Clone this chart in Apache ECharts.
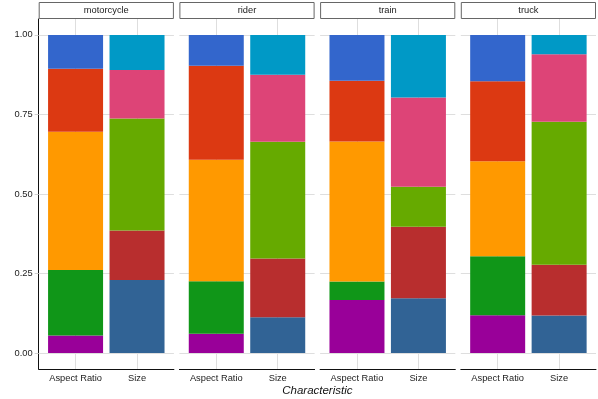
<!DOCTYPE html>
<html>
<head>
<meta charset="utf-8">
<script src="https://cdn.jsdelivr.net/npm/echarts@6/dist/echarts.min.js"></script>
<style>
    html, body { margin: 0; padding: 0; background: #fff; }
    #chart { width: 598px; height: 399px; }
</style>
</head>
<body>
<div id="chart"></div>
<script>
// facets and the two bars in each
const facets = ["motorcycle", "rider", "train", "truck"];
const characteristics = ["Aspect Ratio", "Size"];

// shares per level, bottom to top
const motorcycleAspect = [0.055, 0.206, 0.435, 0.198, 0.106];
const motorcycleSize = [0.230, 0.155, 0.352, 0.153, 0.110];
const riderAspect = [0.061, 0.165, 0.382, 0.295, 0.097];
const riderSize = [0.113, 0.184, 0.367, 0.211, 0.125];
const trainAspect = [0.167, 0.058, 0.440, 0.191, 0.144];
const trainSize = [0.172, 0.225, 0.126, 0.280, 0.197];
const truckAspect = [0.119, 0.185, 0.299, 0.251, 0.146];
const truckSize = [0.118, 0.160, 0.449, 0.212, 0.061];

const yTicks = [0, 0.25, 0.5, 0.75, 1];

const aspectColors = ["#990099", "#109618", "#ff9900", "#dc3912", "#3366cc"];
const sizeColors = ["#316395", "#b82e2e", "#66aa00", "#dd4477", "#0099c6"];

const aspectByFacet = [motorcycleAspect, riderAspect, trainAspect, truckAspect];
const sizeByFacet = [motorcycleSize, riderSize, trainSize, truckSize];

const panelLeft = 38.7;
const panelWidth = 135.2;
const panelGap = 5.5;
const panelTop = 19;
const panelHeight = 350;

const chart = echarts.init(document.getElementById("chart"), null, { renderer: "canvas" });

const grids = [];
const xAxes = [];
const yAxes = [];
const series = [];
const graphics = [];

facets.forEach((name, i) => {
    const left = panelLeft + i * (panelWidth + panelGap);
    grids.push({ left: left, top: panelTop, width: panelWidth, height: panelHeight });

    xAxes.push({
        gridIndex: i,
        type: "value",
        min: 0.4,
        max: 2.6,
        axisLine: { show: true, onZero: false, lineStyle: { color: "#111", width: 1 } },
        axisTick: { show: false, customValues: [1, 2] },
        axisLabel: {
            customValues: [1, 2],
            formatter: v => characteristics[Math.round(v) - 1],
            color: "#222",
            fontSize: 9.3,
            fontFamily: "Liberation Sans",
            margin: 5
        },
        splitLine: { show: true, lineStyle: { color: "#dedede", width: 1 } }
    });

    yAxes.push({
        gridIndex: i,
        type: "value",
        min: -0.05,
        max: 1.05,
        axisLine: { show: i === 0, lineStyle: { color: "#111", width: 1 } },
        axisTick: { show: i === 0, customValues: yTicks, length: 4, lineStyle: { color: "#cfcfcf" } },
        axisLabel: {
            show: i === 0,
            customValues: yTicks,
            formatter: v => v.toFixed(2),
            color: "#222",
            fontSize: 9.3,
            fontFamily: "Liberation Sans",
            margin: 6
        },
        splitLine: { show: true, lineStyle: { color: "#dedede", width: 1 } }
    });

    for (let k = 0; k < 5; k++) {
        // value first so the stack runs along y
        series.push({
            type: "bar",
            xAxisIndex: i,
            yAxisIndex: i,
            stack: "facet" + i,
            barWidth: 55,
            silent: true,
            encode: { y: 0, x: 1 },
            data: [
                { value: [aspectByFacet[i][k], 1], itemStyle: { color: aspectColors[k] } },
                { value: [sizeByFacet[i][k], 2], itemStyle: { color: sizeColors[k] } }
            ]
        });
    }

    // facet strip
    graphics.push({
        type: "rect",
        shape: { x: left + 0.5, y: 2.5, width: panelWidth - 1, height: 16 },
        style: { fill: "#fff", stroke: "#666", lineWidth: 1 }
    });
    graphics.push({
        type: "text",
        x: left + panelWidth / 2,
        y: 10.5,
        style: {
            text: name,
            fill: "#222",
            font: "9.3px 'Liberation Sans'",
            textAlign: "center",
            textVerticalAlign: "middle"
        }
    });
});

graphics.push({
    type: "text",
    x: panelLeft + (4 * panelWidth + 3 * panelGap) / 2,
    y: 391,
    style: {
        text: "Characteristic",
        fill: "#111",
        font: "italic 11.5px 'Liberation Sans'",
        textAlign: "center",
        textVerticalAlign: "middle"
    }
});

chart.setOption({
    animation: false,
    backgroundColor: "#fff",
    grid: grids,
    xAxis: xAxes,
    yAxis: yAxes,
    series: series,
    graphic: graphics
});
</script>
</body>
</html>
